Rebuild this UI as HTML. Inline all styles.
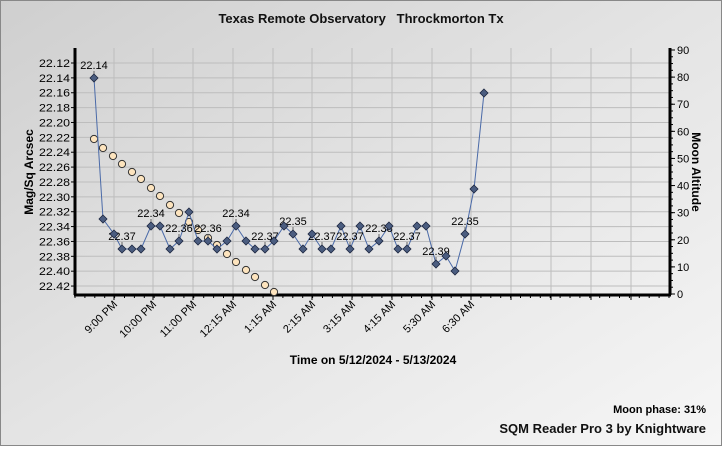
<!DOCTYPE html>
<html><head><meta charset="utf-8"><style>
html,body{margin:0;padding:0;}
body{width:722px;height:446px;overflow:hidden;font-family:"Liberation Sans",Arial,sans-serif;}
</style></head><body>
<svg id="s" width="722" height="446" xmlns="http://www.w3.org/2000/svg" font-family="Liberation Sans, Arial, sans-serif">
<defs><linearGradient id="bg" x1="0" y1="0" x2="1" y2="1">
<stop offset="0" stop-color="#cfcfcf"/><stop offset="0.5" stop-color="#e4e4e4"/><stop offset="1" stop-color="#f6f6f6"/></linearGradient></defs>
<rect x="0.5" y="0.5" width="721" height="445" fill="url(#bg)" stroke="#888"/>
<text x="361" y="23" text-anchor="middle" font-size="13" font-weight="bold" fill="#111">Texas Remote Observatory &#160; Throckmorton Tx</text>
<g id="g"></g>
<text x="706" y="413" text-anchor="end" font-size="11" font-weight="bold" fill="#000">Moon phase: 31%</text>
<text x="706" y="433" text-anchor="end" font-size="13" font-weight="bold" fill="#111">SQM Reader Pro 3 by Knightware</text>
<text x="373" y="364" text-anchor="middle" font-size="12" font-weight="bold" fill="#000">Time on 5/12/2024 - 5/13/2024</text>
<text transform="translate(33,172) rotate(-90)" text-anchor="middle" font-size="12" font-weight="bold" fill="#000">Mag/Sq Arcsec</text>
<text transform="translate(692,172) rotate(90)" text-anchor="middle" font-size="12" font-weight="bold" fill="#000">Moon Altitude</text>
</svg>
<script>
var g=document.getElementById('g'),h='';
var L=75,R=670,T=48,B=295;
function Y(v){return 63+(v-22.12)/0.02*14.87;}
function M(a){return 294-a*244/90;}
for(var i=0;i<=15;i++){var y=Y(22.12+i*0.02);h+='<line x1="'+L+'" x2="'+R+'" y1="'+y+'" y2="'+y+'" stroke="#bdbdbd"/>';
h+='<text x="70" y="'+(y+4)+'" text-anchor="end" font-size="11" fill="#000" textLength="31" lengthAdjust="spacingAndGlyphs">'+(22.12+i*0.02).toFixed(2)+'</text>';
h+='<line x1="'+(L-4)+'" x2="'+L+'" y1="'+y+'" y2="'+y+'" stroke="#000"/>';}
var xs=[114,153,193,233,273,312,352,392,432,471,511,551,591,631];
var labs=["9:00 PM","10:00 PM","11:00 PM","12:15 AM","1:15 AM","2:15 AM","3:15 AM","4:15 AM","5:30 AM","6:30 AM"];
xs.forEach(function(x,i){h+='<line x1="'+x+'" x2="'+x+'" y1="'+T+'" y2="'+B+'" stroke="#bdbdbd"/>';
h+='<line x1="'+x+'" x2="'+x+'" y1="'+B+'" y2="'+(B+5)+'" stroke="#000"/>';
if(labs[i])h+='<text transform="translate('+(x+4)+',305) rotate(-45)" text-anchor="end" font-size="11" fill="#000">'+labs[i]+'</text>';});
for(var x=L;x<R;x+=9.9){h+='<line x1="'+x+'" x2="'+x+'" y1="'+B+'" y2="'+(B+3)+'" stroke="#000"/>';}
for(var a=0;a<=90;a+=10){var y=M(a);h+='<line x1="'+R+'" x2="'+(R+5)+'" y1="'+y+'" y2="'+y+'" stroke="#000"/>';
h+='<text x="677" y="'+(y+4)+'" font-size="11" fill="#000">'+a+'</text>';}
for(var a=0;a<90;a+=2.5){var y=M(a);h+='<line x1="'+R+'" x2="'+(R+3)+'" y1="'+y+'" y2="'+y+'" stroke="#000"/>';}
h+='<line x1="'+L+'" x2="'+L+'" y1="'+T+'" y2="'+B+'" stroke="#000" stroke-width="3"/>';
h+='<line x1="'+R+'" x2="'+R+'" y1="'+T+'" y2="'+B+'" stroke="#000" stroke-width="3"/>';
h+='<line x1="'+(L-1)+'" x2="'+(R+1)+'" y1="'+B+'" y2="'+B+'" stroke="#000" stroke-width="3"/>';
var mx=[94,103,113,122,132,141,151,160,170,179,189,198,208,217,227,236,246,255,265,274];
var my=[139,148,156,164,172,179,188,196,205,213,222,230,238,245,254,262,270,277,285,292];
mx.forEach(function(x,i){h+='<circle cx="'+x+'" cy="'+my[i]+'" r="3.6" fill="#fde4be" stroke="#333" stroke-width="1"/>';});
var p=[[94,78],[103,219],[114,234],[122,249],[132,249],[141,249],[151,226],[160,226],[170,249],[179,241],[189,212],[198,241],[208,241],[217,249],[227,241],[236,226],[246,241],[255,249],[265,249],[274,241],[284,226],[293,234],[303,249],[312,234],[322,249],[331,249],[341,226],[350,249],[360,226],[369,249],[379,241],[389,226],[398,249],[407,249],[417,226],[426,226],[436,264],[446,256],[455,271],[465,234],[474,189],[484,93]];
h+='<polyline fill="none" stroke="#4a6aa8" stroke-width="1" points="'+p.map(function(q){return q.join(',')}).join(' ')+'"/>';
var lb=[[0,"22.14"],[3,"22.37"],[6,"22.34"],[9,"22.36"],[12,"22.36"],[15,"22.34"],[18,"22.37"],[21,"22.35"],[24,"22.37"],[27,"22.37"],[30,"22.38"],[33,"22.37"],[36,"22.39"],[39,"22.35"]];
lb.forEach(function(l){var q=p[l[0]];h+='<line x1="'+q[0]+'" x2="'+q[0]+'" y1="'+(q[1]-7)+'" y2="'+q[1]+'" stroke="#666"/>';
h+='<text x="'+q[0]+'" y="'+(q[1]-9)+'" text-anchor="middle" font-size="11" fill="#000">'+l[1]+'</text>';});
p.forEach(function(q){h+='<path d="M'+q[0]+','+(q[1]-4)+' l4,4 l-4,4 l-4,-4z" fill="#4b5d80" stroke="#1c2640" stroke-width="0.8"/>';});
g.innerHTML=h;
</script>
</body></html>
